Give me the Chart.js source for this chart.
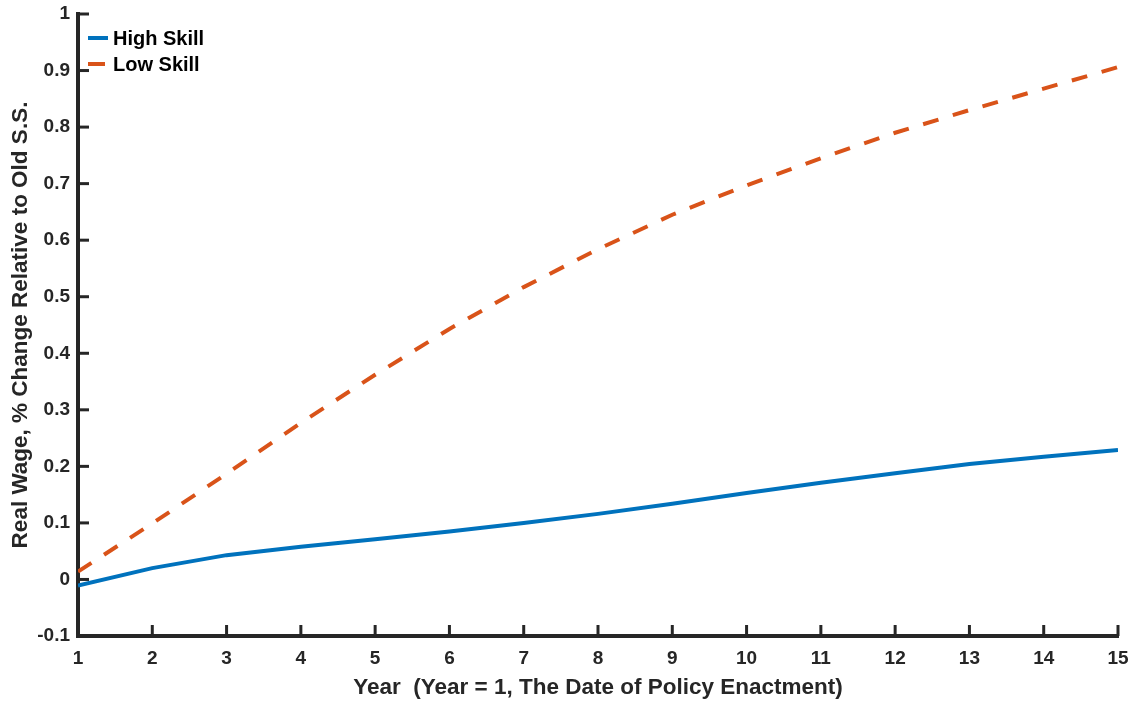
<!DOCTYPE html>
<html>
<head>
<meta charset="utf-8">
<script src="https://cdn.jsdelivr.net/npm/chart.js@4/dist/chart.umd.min.js"></script>
<style>
  html, body { margin: 0; padding: 0; background: #fff; }
  #wrap { width: 1136px; height: 702px; }
</style>
</head>
<body>
<div id="wrap"><canvas id="wageChart" width="1136" height="702"></canvas></div>
<script>
// Real wage paths after policy enactment
const years = [1, 2, 3, 4, 5, 6, 7, 8, 9, 10, 11, 12, 13, 14, 15];
const highSkill = [-0.011, 0.020, 0.043, 0.058, 0.071, 0.085, 0.100, 0.116, 0.134, 0.153, 0.171, 0.188, 0.204, 0.217, 0.229];
const lowSkill = [0.014, 0.099, 0.187, 0.277, 0.362, 0.443, 0.517, 0.584, 0.645, 0.697, 0.745, 0.790, 0.830, 0.868, 0.906];
const yTicks = [-0.1, 0, 0.1, 0.2, 0.3, 0.4, 0.5, 0.6, 0.7, 0.8, 0.9, 1];

const axisColor = '#262626';
const fontFamily = '"Liberation Sans", Arial, sans-serif';

// inward tick marks + in-plot legend, MATLAB style
const matlabAxes = {
    id: 'matlabAxes',
    afterDraw(chart) {
        const ctx = chart.ctx;
        const x = chart.scales.x;
        const y = chart.scales.y;
        const area = chart.chartArea;
        ctx.save();
        ctx.strokeStyle = axisColor;
        ctx.lineWidth = 3;
        years.forEach(v => {
            const px = x.getPixelForValue(v);
            ctx.beginPath();
            ctx.moveTo(px, area.bottom);
            ctx.lineTo(px, area.bottom - 11);
            ctx.stroke();
        });
        yTicks.forEach(v => {
            const py = y.getPixelForValue(v);
            ctx.beginPath();
            ctx.moveTo(area.left, py);
            ctx.lineTo(area.left + 11, py);
            ctx.stroke();
        });

        // legend
        ctx.font = 'bold 20px ' + fontFamily;
        ctx.textBaseline = 'middle';
        ctx.fillStyle = '#000';
        chart.data.datasets.forEach((ds, i) => {
            const ly = area.top + 24 + i * 26;
            ctx.strokeStyle = ds.borderColor;
            ctx.lineWidth = 4;
            ctx.setLineDash([]);
            ctx.beginPath();
            ctx.moveTo(area.left + 10, ly);
            ctx.lineTo(area.left + (i === 0 ? 30 : 27), ly);
            ctx.stroke();
            ctx.fillText(ds.label, area.left + 35, ly + 1);
        });
        ctx.restore();
    }
};

new Chart(document.getElementById('wageChart').getContext('2d'), {
    type: 'line',
    data: {
        labels: years,
        datasets: [{
            label: 'High Skill',
            data: years.map((v, i) => ({ x: v, y: highSkill[i] })),
            borderColor: '#0072BD',
            borderWidth: 4,
            pointRadius: 0,
            tension: 0,
            fill: false
        }, {
            label: 'Low Skill',
            data: years.map((v, i) => ({ x: v, y: lowSkill[i] })),
            borderColor: '#D95319',
            borderWidth: 4,
            borderDash: [16, 15],
            pointRadius: 0,
            tension: 0,
            fill: false
        }]
    },
    plugins: [matlabAxes],
    options: {
        responsive: false,
        animation: false,
        layout: { padding: { left: 0, right: 18, top: 14, bottom: 0 } },
        plugins: {
            legend: { display: false },
            tooltip: { enabled: false }
        },
        scales: {
            x: {
                type: 'linear',
                min: 1,
                max: 15,
                afterFit: function(scale) {
                    scale.height = 66;
                    scale.paddingLeft = 0;
                    scale.paddingRight = 0;
                },
                afterBuildTicks: function(scale) {
                    scale.ticks = years.map(v => ({ value: v }));
                },
                grid: { display: false, drawTicks: false },
                border: { display: true, color: axisColor, width: 4 },
                ticks: {
                    padding: 11,
                    color: axisColor,
                    font: { family: fontFamily, size: 19, weight: 'bold' }
                },
                title: {
                    display: true,
                    text: 'Year  (Year = 1, The Date of Policy Enactment)',
                    color: axisColor,
                    padding: { top: 0, bottom: 1 },
                    font: { family: fontFamily, size: 22.5, weight: 'bold' }
                }
            },
            y: {
                type: 'linear',
                min: -0.1,
                max: 1,
                afterFit: function(scale) {
                    scale.width = 78;
                    scale.paddingTop = 0;
                    scale.paddingBottom = 0;
                },
                afterBuildTicks: function(scale) {
                    scale.ticks = yTicks.map(v => ({ value: v }));
                },
                grid: { display: false, drawTicks: false },
                border: { display: true, color: axisColor, width: 4 },
                ticks: {
                    padding: 8,
                    color: axisColor,
                    font: { family: fontFamily, size: 19, weight: 'bold' },
                    callback: function(value) {
                        return Math.abs(value) < 1e-9 ? '0' : String(Math.round(value * 10) / 10);
                    }
                },
                title: {
                    display: true,
                    text: 'Real Wage, % Change Relative to Old S.S.',
                    color: axisColor,
                    padding: { top: 7, bottom: 0 },
                    font: { family: fontFamily, size: 22.5, weight: 'bold' }
                }
            }
        }
    }
});
</script>
</body>
</html>
